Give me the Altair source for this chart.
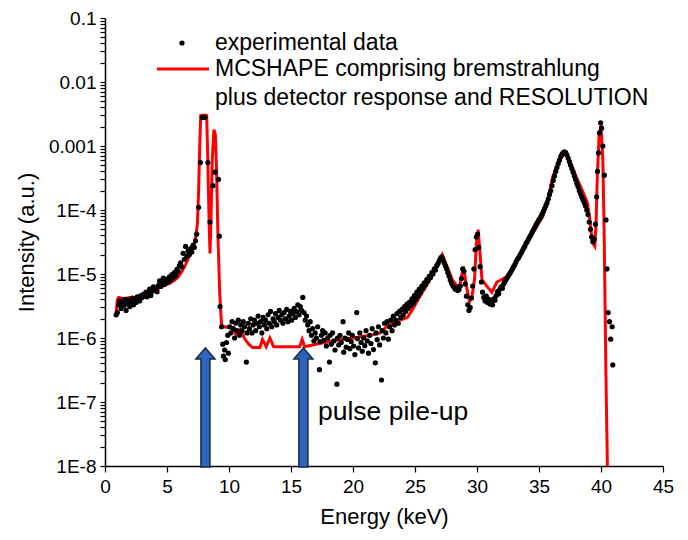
import altair as alt
import pandas as pd

exp_energy = [
    0.90, 1.00, 1.10, 1.20, 1.30, 1.40, 1.50, 1.60, 1.70, 1.80, 1.90, 2.00, 2.10, 2.20, 2.30, 2.40,
    2.50, 2.60, 2.70, 2.80, 2.90, 3.00, 3.10, 3.20, 3.30, 3.40, 3.50, 3.60, 3.70, 3.80, 3.90, 4.00,
    4.10, 4.20, 4.30, 4.40, 4.50, 4.60, 4.70, 4.80, 4.90, 5.00, 5.10, 5.20, 5.30, 5.40, 5.50, 5.60,
    5.70, 5.80, 5.90, 6.00, 6.10, 6.20, 6.30, 6.40, 6.50, 6.60, 6.70, 6.80, 6.90, 7.00, 7.10, 7.20,
    7.30, 7.40,
    7.55, 7.70, 7.85, 8.05, 8.30, 8.47, 8.70, 8.87, 9.15, 9.22, 9.28, 9.40,
    9.50, 9.55, 9.65, 9.70, 9.80, 9.90, 9.95, 10.05, 10.15, 10.25, 10.35, 10.45, 10.55, 10.65, 10.75,
    10.85, 10.95, 11.05, 11.15, 11.25, 11.40, 11.45, 11.55, 11.65, 11.75, 11.85, 11.95, 12.05, 12.15,
    12.25, 12.35, 12.45, 12.55, 12.65, 12.75, 12.85, 12.95, 13.05, 13.15, 13.25, 13.35, 13.45, 13.55,
    13.65, 13.75, 13.85, 13.95, 14.05, 14.15, 14.25, 14.35, 14.45, 14.55, 14.65, 14.75, 14.85, 14.95,
    15.05, 15.15, 15.25, 15.35, 15.45, 15.55, 15.65, 15.75, 15.85, 15.95, 16.05, 16.15, 16.25, 16.35,
    16.45, 16.55, 16.65, 16.75, 16.85, 16.95, 17.05, 17.15, 17.30, 17.35, 17.45, 17.55, 17.65, 17.75,
    17.85, 17.95, 18.10, 18.15, 18.25, 18.35, 18.45, 18.55, 18.70, 18.75, 18.85, 18.95, 19.05, 19.20,
    19.25, 19.35, 19.45, 19.55, 19.65, 19.75, 19.85, 19.95, 20.05, 20.15, 20.30, 20.35, 20.45, 20.55,
    20.65, 20.75, 20.85, 20.95, 21.05, 21.15, 21.25, 21.35, 21.45, 21.55, 21.65, 21.80, 21.85, 21.95,
    22.05, 22.15, 22.30, 22.35, 22.45, 22.55, 22.65, 22.75, 22.85, 22.95, 23.05, 23.15, 23.25, 23.35,
    23.45, 23.55, 23.65, 23.75, 23.85,
    23.95, 24.05, 24.15, 24.25, 24.35, 24.45, 24.55, 24.65, 24.75, 24.85, 24.95, 25.05, 25.15, 25.25,
    25.35, 25.45, 25.55, 25.65, 25.75, 25.85, 25.95, 26.05, 26.15, 26.25, 26.35, 26.45, 26.55, 26.65,
    26.75, 26.85, 26.95, 27.05, 27.15, 27.25, 27.35, 27.45, 27.55, 27.65, 27.75, 27.85, 27.95, 28.05,
    28.15, 28.25, 28.35, 28.45, 28.55, 28.65, 28.75, 28.85, 28.95, 29.05, 29.15, 29.25, 29.35, 29.45,
    29.55, 29.65, 29.75, 29.85, 29.95, 30.05, 30.15, 30.25, 30.35, 30.45, 30.55, 30.65, 30.75, 30.85,
    30.95, 31.05, 31.15, 31.25, 31.35, 31.45, 31.55, 31.65, 31.75, 31.85, 31.95, 32.05, 32.15, 32.25,
    32.35, 32.45, 32.55, 32.65, 32.75, 32.85, 32.95, 33.05, 33.15, 33.25, 33.35, 33.45,
    33.55, 33.65, 33.75, 33.85, 33.95, 34.05, 34.15, 34.25, 34.35, 34.45, 34.55, 34.65, 34.75, 34.85,
    34.95, 35.05, 35.15, 35.25, 35.35, 35.45, 35.55, 35.65, 35.75, 35.85, 35.95, 36.05, 36.15, 36.25,
    36.35, 36.45, 36.55, 36.65, 36.75, 36.85, 36.95, 37.05, 37.15, 37.25, 37.35, 37.45, 37.55, 37.65,
    37.75, 37.85, 37.95, 38.05, 38.15, 38.25, 38.35, 38.45, 38.55, 38.65, 38.75, 38.85, 38.95, 39.05,
    39.15, 39.25, 39.35, 39.45, 39.55, 39.65, 39.72, 39.80, 39.88, 39.97, 40.05, 40.15, 40.27, 40.40,
    40.48, 40.58, 40.68, 40.78, 40.90, 40.95,
]
exp_intensity = [
    2.3e-6, 2.5e-6, 3.3e-6, 3.8e-6, 2.9e-6, 3.6e-6, 3.2e-6, 4.0e-6, 2.7e-6, 3.4e-6, 3.9e-6, 3.1e-6, 3.7e-6, 4.2e-6, 3.3e-6, 4.0e-6,
    3.6e-6, 4.4e-6, 4.1e-6, 3.8e-6, 4.6e-6, 4.3e-6, 4.8e-6, 4.5e-6, 5.2e-6, 4.4e-6, 5.0e-6, 5.8e-6, 4.6e-6, 5.4e-6, 6.3e-6, 5.6e-6,
    6.0e-6, 5.3e-6, 6.6e-6, 7.8e-6, 6.4e-6, 7.2e-6, 8.6e-6, 6.9e-6, 7.6e-6, 8.3e-6, 7.4e-6, 9.0e-6, 8.1e-6, 9.8e-6, 8.8e-6, 1.05e-5,
    9.4e-6, 1.18e-5, 1.1e-5, 1.35e-5, 1.5e-5, 1.3e-5, 2.1e-5, 1.7e-5, 2.7e-5, 1.9e-5, 2.3e-5, 2.0e-5, 2.5e-5, 2.2e-5, 2.8e-5, 2.6e-5,
    3.3e-5, 4.2e-5,
    1.1e-4, 5.5e-4, 2.8e-3, 2.8e-3, 5.5e-4, 6.5e-5, 2.4e-4, 3.9e-4, 3.0e-4, 3.9e-5, 3.1e-6, 1.5e-6,
    8.0e-7, 5.2e-7, 6.5e-7, 4.6e-7, 8.5e-7, 1.1e-6, 5.8e-7, 1.5e-6, 1.2e-6, 1.8e-6, 1.4e-6, 1.0e-6, 1.7e-6, 1.3e-6, 1.9e-6,
    1.1e-6, 1.6e-6, 1.3e-6, 1.8e-6, 1.5e-6, 4.2e-7, 1.2e-6, 1.7e-6, 1.4e-6, 2.0e-6, 1.2e-6, 1.6e-6, 1.9e-6, 1.3e-6,
    1.7e-6, 2.2e-6, 1.5e-6, 1.8e-6, 1.2e-6, 2.1e-6, 1.6e-6, 1.9e-6, 1.4e-6, 2.3e-6, 1.7e-6, 2.6e-6, 1.5e-6, 2.0e-6,
    1.8e-6, 2.4e-6, 1.6e-6, 2.1e-6, 2.7e-6, 1.9e-6, 2.3e-6, 1.7e-6, 2.5e-6, 2.0e-6, 2.8e-6, 1.8e-6, 2.2e-6, 2.6e-6,
    1.9e-6, 2.4e-6, 2.9e-6, 2.1e-6, 2.6e-6, 3.3e-6, 2.3e-6, 3.1e-6, 2.7e-6, 4.3e-6, 2.5e-6, 1.9e-6, 2.2e-6, 1.6e-6,
    1.3e-6, 1.8e-6, 1.1e-6, 1.4e-6, 9.0e-7, 1.2e-6, 1.0e-6, 1.5e-6, 3.2e-7, 8.8e-7, 1.1e-6, 1.3e-6, 9.2e-7, 1.2e-6,
    7.5e-7, 1.0e-6, 4.2e-7, 1.1e-6, 8.0e-7, 1.2e-6, 9.0e-7, 6.5e-7, 1.9e-7, 1.0e-6, 7.8e-7, 1.1e-6, 8.5e-7, 1.8e-6,
    6.0e-7, 1.0e-6, 7.2e-7, 9.5e-7, 1.2e-6, 6.8e-7, 8.8e-7, 1.1e-6, 7.5e-7, 5.5e-7, 2.5e-6, 9.8e-7, 7.0e-7, 1.2e-6,
    8.5e-7, 6.2e-7, 1.0e-6, 7.6e-7, 1.3e-6, 9.0e-7, 5.8e-7, 1.1e-6, 8.2e-7, 1.4e-6, 6.6e-7, 4.1e-7, 1.2e-6, 9.4e-7,
    1.5e-6, 7.8e-7, 2.2e-7, 1.3e-6, 1.0e-6, 1.7e-6, 1.2e-6, 1.8e-6, 9.6e-7, 1.5e-6, 1.9e-6, 1.3e-6, 2.2e-6, 1.6e-6,
    1.9e-6, 2.4e-6, 1.7e-6, 2.6e-6, 2.1e-6,
    2.8e-6, 2.3e-6, 3.1e-6, 2.6e-6, 3.4e-6, 2.9e-6, 3.6e-6, 3.2e-6, 4.1e-6, 3.5e-6, 4.6e-6, 4.0e-6, 5.2e-6, 4.5e-6,
    5.8e-6, 5.1e-6, 6.5e-6, 6.0e-6, 7.3e-6, 6.8e-6, 8.2e-6, 7.8e-6, 9.2e-6, 8.8e-6, 1.05e-5, 1.0e-5, 1.2e-5, 1.15e-5,
    1.35e-5, 1.45e-5, 1.6e-5, 1.75e-5, 1.85e-5, 1.7e-5, 1.5e-5, 1.35e-5, 1.2e-5, 1.05e-5, 9.2e-6, 8.0e-6, 7.2e-6, 6.6e-6,
    6.2e-6, 5.8e-6, 6.0e-6, 5.5e-6, 5.7e-6, 6.5e-6, 8.5e-6, 1.2e-5, 1.1e-5, 7.0e-6, 4.5e-6, 3.3e-6, 2.7e-6, 3.0e-6,
    4.2e-6, 6.5e-6, 1.2e-5, 2.4e-5, 3.8e-5, 4.2e-5, 2.6e-5, 1.3e-5, 7.5e-6, 5.2e-6, 4.3e-6, 3.8e-6, 4.5e-6, 3.6e-6,
    4.0e-6, 3.4e-6, 3.7e-6, 3.3e-6, 4.1e-6, 3.9e-6, 4.6e-6, 5.3e-6, 4.9e-6, 5.8e-6, 6.3e-6, 6.0e-6, 7.0e-6, 7.6e-6,
    8.2e-6, 8.8e-6, 9.5e-6, 1.02e-5, 1.1e-5, 1.2e-5, 1.3e-5, 1.4e-5, 1.55e-5, 1.7e-5, 1.8e-5, 1.95e-5,
    2.1e-5, 2.3e-5, 2.5e-5, 2.7e-5, 3.0e-5, 3.2e-5, 3.5e-5, 3.8e-5, 4.1e-5, 4.5e-5, 4.9e-5, 5.3e-5, 5.8e-5, 6.3e-5,
    6.8e-5, 7.3e-5, 7.9e-5, 8.6e-5, 9.5e-5, 1.05e-4, 1.17e-4, 1.3e-4, 1.5e-4, 1.75e-4, 2.0e-4, 2.4e-4, 2.9e-4, 3.4e-4,
    4.0e-4, 4.6e-4, 5.3e-4, 6.0e-4, 6.8e-4, 7.4e-4, 7.9e-4, 8.1e-4, 7.9e-4, 7.3e-4, 6.5e-4, 5.7e-4, 5.0e-4, 4.4e-4,
    3.9e-4, 3.4e-4, 3.0e-4, 2.6e-4, 2.3e-4, 2.0e-4, 1.8e-4, 1.6e-4, 1.45e-4, 1.3e-4, 1.15e-4, 1.0e-4, 8.5e-5, 6.5e-5,
    5.0e-5, 3.8e-5, 3.2e-5, 3.5e-5, 6.0e-5, 1.6e-4, 4.0e-4, 7.8e-4, 1.6e-3, 2.3e-3, 1.9e-3, 1.0e-3, 3.5e-4, 7.0e-5,
    1.2e-5, 2.5e-6, 1.8e-6, 9.6e-7, 1.5e-6, 3.8e-7,
]

# ---------------- MCSHAPE simulation (red line) ----------------
sim_energy = [
    0.90, 1.00, 1.10, 1.50, 2.00, 2.50, 2.80, 3.10, 3.40, 3.70, 4.00, 4.30, 4.60, 5.00, 5.30, 5.60,
    5.90, 6.20, 6.50, 6.80, 7.10, 7.30, 7.45, 7.55, 7.65, 7.72, 8.00, 8.20, 8.30, 8.40, 8.47, 8.55,
    8.65, 8.78, 8.90, 9.00, 9.10, 9.25, 9.40, 9.60, 10.1, 10.3, 10.6, 10.9, 11.3, 11.6, 11.9, 12.5,
    12.7, 13.0, 13.3, 13.6, 15.7, 15.9, 16.1, 17.3, 18.7, 20.0, 21.4, 22.2, 22.7, 23.2, 23.8, 24.4,
    24.9, 25.4, 25.8, 26.2, 26.7, 27.2, 27.6, 28.0, 28.3, 28.6, 28.9, 29.2, 29.4, 29.6, 29.8, 29.95,
    30.1, 30.25, 30.4, 30.8, 31.2, 31.6, 32.0, 32.4, 33.0, 33.5, 34.0, 34.5, 35.3, 35.7, 36.1, 36.6,
    37.1, 37.5, 38.0, 38.5, 38.9, 39.1, 39.3, 39.5, 39.6, 39.7, 39.85, 40.0, 40.15, 40.25, 40.4, 40.6,
]
sim_intensity = [
    2.5e-6, 4.0e-6, 4.3e-6, 4.1e-6, 4.3e-6, 4.2e-6, 4.6e-6, 4.5e-6, 5.0e-6, 5.2e-6, 5.6e-6, 5.9e-6, 6.4e-6, 6.9e-6, 7.3e-6, 8.0e-6,
    9.0e-6, 1.1e-5, 1.4e-5, 1.9e-5, 2.6e-5, 3.6e-5, 6.0e-5, 2.0e-4, 1.2e-3, 3.0e-3, 3.05e-3, 3.0e-3, 5.0e-4, 6.0e-5, 2.1e-5, 8.0e-5,
    6.0e-4, 1.8e-3, 1.5e-3, 4.0e-4, 4.5e-5, 5.0e-6, 1.6e-6, 1.5e-6, 1.45e-6, 1.4e-6, 1.1e-6, 1.35e-6, 9.5e-7, 8.0e-7, 7.1e-7, 7.1e-7,
    9.5e-7, 7.3e-7, 1.0e-6, 7.3e-7, 7.3e-7, 9.5e-7, 7.3e-7, 8.2e-7, 9.2e-7, 1.0e-6, 1.1e-6, 1.2e-6, 1.5e-6, 1.7e-6, 1.9e-6, 2.1e-6,
    3.0e-6, 4.5e-6, 6.0e-6, 8.2e-6, 1.25e-5, 2.0e-5, 1.3e-5, 8.2e-6, 6.8e-6, 6.3e-6, 1.3e-5, 5.7e-6, 3.7e-6, 4.5e-6, 8.2e-6, 3.0e-5,
    4.9e-5, 2.0e-5, 8.2e-6, 6.4e-6, 5.2e-6, 7.5e-6, 8.2e-6, 9.1e-6, 1.3e-5, 2.1e-5, 3.2e-5, 4.4e-5, 7.9e-5, 1.4e-4, 3.3e-4, 5.8e-4,
    7.8e-4, 5.8e-4, 3.3e-4, 2.0e-4, 1.3e-4, 7.0e-5, 3.1e-5, 2.7e-5, 6.0e-5, 3.3e-4, 1.5e-3, 2.1e-3, 6.0e-4, 5.0e-5, 2.5e-7, 1.0e-9,
]

# ---------------- annotations ----------------
arrow_energy = [8.1, 16.0]
legend_labels = ["experimental data", "MCSHAPE comprising bremstrahlung",
                 "plus detector response and RESOLUTION"]
annotation_text = "pulse pile-up"

x_ticks = [i * 2.5 for i in range(19)]
y_ticks = [m * 10.0 ** e for e in range(-8, -1) for m in range(1, 10)] + [0.1]
y_decade_labels = {-1: "0.1", -2: "0.01", -3: "0.001", -4: "1E-4", -5: "1E-5",
                   -6: "1E-6", -7: "1E-7", -8: "1E-8"}

FONT = "Liberation Sans"

exp_df = pd.DataFrame({"E": exp_energy, "I": exp_intensity})
sim_df = pd.DataFrame({"E": sim_energy, "I": sim_intensity})
arrow_df = pd.DataFrame({"E": arrow_energy})
one = pd.DataFrame({"k": [0]})

label_expr = " : ".join(
    f"round(log(datum.value)/LN10*1000) == {e * 1000} ? '{t}'" for e, t in y_decade_labels.items()
) + " : ''"

x_enc = alt.X("E:Q", scale=alt.Scale(domain=[0, 45], nice=False),
              axis=alt.Axis(title="Energy (keV)", values=x_ticks,
                            labelExpr="datum.value % 5 == 0 ? datum.label : ''",
                            grid=False, tickSize=6, tickColor="black", domainColor="black",
                            domainWidth=1.5, tickWidth=1.2, labelFontSize=19, labelFont=FONT,
                            labelColor="black", labelPadding=5, titleFontSize=22, titleFont=FONT,
                            titleFontWeight="normal", titleColor="black", titlePadding=10,
                            labelFlush=False, labelOverlap=False))
y_enc = alt.Y("I:Q", scale=alt.Scale(type="log", domain=[1e-8, 0.1], nice=False),
              axis=alt.Axis(title="Intensity (a.u.)", values=y_ticks, labelExpr=label_expr,
                            grid=False, tickSize=5, tickColor="black", domainColor="black",
                            domainWidth=1.5, tickWidth=1.2, labelFontSize=19, labelFont=FONT,
                            labelColor="black", labelPadding=4, titleFontSize=22, titleFont=FONT,
                            titleFontWeight="normal", titleColor="black", titlePadding=10,
                            labelOverlap=False, labelFlush=False))

line = alt.Chart(sim_df).mark_line(color="#FF0000", strokeWidth=3, clip=True).encode(
    x=x_enc, y=y_enc, order="E:Q")

points = alt.Chart(exp_df).mark_circle(color="black", size=27, opacity=1, clip=True).encode(
    x="E:Q", y="I:Q")

arrow_path = ("M -0.076 1 L 0.076 1 L 0.076 -0.815 L 0.16 -0.815 L 0 -1 "
              "L -0.16 -0.815 L -0.076 -0.815 Z")
arrows = alt.Chart(arrow_df).mark_point(
    shape=arrow_path, size=119 ** 2, filled=True, fill="#2E64BE", stroke="#1A2A4A",
    strokeWidth=1.5, opacity=1).encode(x="E:Q", y=alt.value(389.5))

pile_text = alt.Chart(one).mark_text(
    text=annotation_text, font=FONT, fontSize=26.5, align="left", baseline="alphabetic",
    color="black").encode(x=alt.value(213), y=alt.value(402))

leg_dot = alt.Chart(one).mark_circle(color="black", size=27, opacity=1).encode(
    x=alt.value(77), y=alt.value(25))
leg_line = alt.Chart(one).mark_rule(color="#FF0000", strokeWidth=3).encode(
    x=alt.value(52), x2=alt.value(104), y=alt.value(51))

leg_y = [25, 51, 80]
leg_texts = [
    alt.Chart(one).mark_text(text=t, font=FONT, fontSize=23, align="left", baseline="middle",
                             color="black").encode(x=alt.value(110), y=alt.value(yy))
    for t, yy in zip(legend_labels, leg_y)
]

chart = alt.layer(line, points, arrows, pile_text, leg_dot, leg_line, *leg_texts).properties(
    width=558, height=448,
    autosize=alt.AutoSizeParams(type="none"),
    padding={"left": 105, "top": 18, "right": 25, "bottom": 74},
    background="white",
).configure_view(stroke=None)

chart.save("out.html", embed_options={"renderer": "svg", "actions": False})
